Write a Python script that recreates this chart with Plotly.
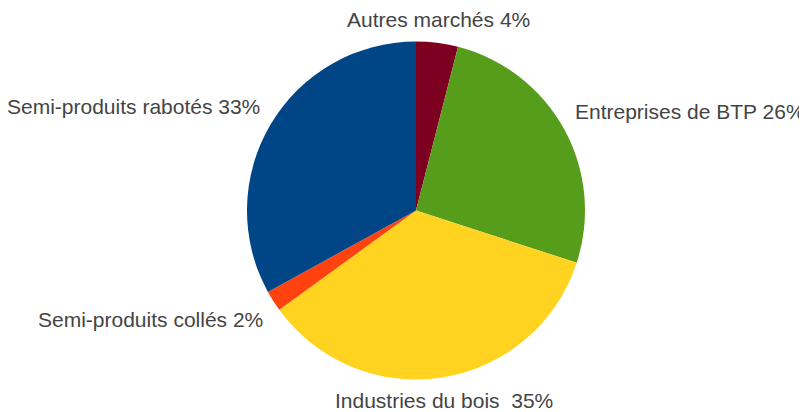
import math
import plotly.graph_objects as go

categories = ["Autres marchés", "Entreprises de BTP", "Industries du bois ", "Semi-produits collés", "Semi-produits rabotés"]
values = [4, 26, 35, 2, 33]
colors = ["#7e0021", "#579d1c", "#ffd320", "#ff420e", "#004586"]

labels_text = [f"{c} {v}%" for c, v in zip(categories, values)]

W, H = 807, 412
OFF = 8  # default page body margin of the HTML page
cx, cy, r = 416 - OFF, 210.5 - OFF, 169
label_gap = 11

fig = go.Figure(go.Pie(
    labels=categories,
    values=values,
    textinfo="none",
    sort=False,
    direction="clockwise",
    rotation=0,
    marker=dict(colors=colors, line=dict(width=0)),
    showlegend=False,
    domain=dict(x=[(cx - r) / W, (cx + r) / W], y=[1 - (cy + r) / H, 1 - (cy - r) / H]),
    hoverinfo="label+percent",
))

# Labels placed outside each slice, aligned by sector of the slice mid-angle
total = sum(values)
acc = 0.0
annotations = []
for txt, v in zip(labels_text, values):
    mid = (acc + v / 2) / total * 360.0  # clockwise from 12 o'clock
    acc += v
    a = math.radians(mid)
    R = r + label_gap
    px = cx + R * math.sin(a)
    py = cy - R * math.cos(a)
    math_ang = (90 - mid) % 360  # counter-clockwise from 3 o'clock
    sector = int(((math_ang + 22.5) % 360) // 45)
    xa = {0: "left", 1: "left", 2: "center", 3: "right", 4: "right", 5: "right", 6: "center", 7: "left"}[sector]
    ya = {0: "middle", 1: "bottom", 2: "bottom", 3: "bottom", 4: "middle", 5: "top", 6: "top", 7: "top"}[sector]
    annotations.append(dict(
        x=px / W, y=1 - py / H, xref="paper", yref="paper",
        text=txt, showarrow=False, xanchor=xa, yanchor=ya,
        font=dict(family="Liberation Sans, Arial, sans-serif", size=21, color="#444444"),
        borderpad=0,
    ))

fig.update_layout(
    width=W, height=H,
    margin=dict(l=0, r=0, t=0, b=0),
    paper_bgcolor="white",
    plot_bgcolor="white",
    annotations=annotations,
)

fig.write_html("out.html")
